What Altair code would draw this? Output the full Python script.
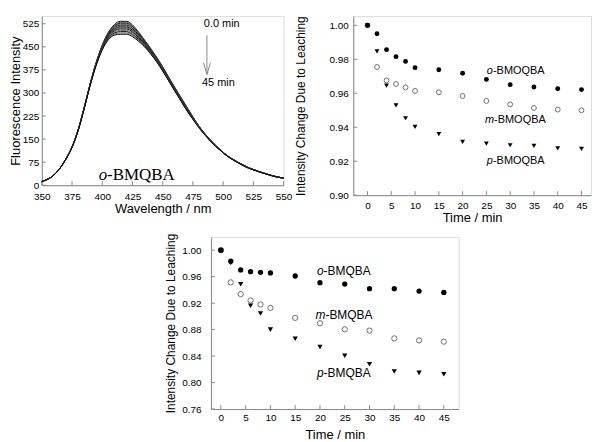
import altair as alt
import pandas as pd

# ---------------- data ----------------
# emission spectra of o-BMQBA (top curve + spread between first and last scan)
wavelengths = list(range(350, 551, 5))
spec_top = [12, 20, 33, 55, 86, 125, 180, 252, 330, 400, 456, 497, 522, 533, 533,
            521, 498, 472, 445, 416, 385, 351, 318, 286, 254, 222, 192, 167, 145, 125,
            107, 92, 80, 69, 59, 51, 44, 38, 32, 27, 23]
spec_spread = [0, 0, 0, 0, 1, 2, 3, 4, 5, 10, 16, 24, 34, 42, 42,
               38, 30, 22, 18, 15, 14, 12, 12, 12, 12, 8, 5, 4, 4, 3,
               2, 2, 2, 2, 2, 1, 1, 1, 1, 1, 0]
scan_times = [0, 2, 4, 6, 8, 10, 15, 20, 25, 30, 35, 40, 45]
scan_drop = [0, 0.08, 0.15, 0.22, 0.30, 0.38, 0.45, 0.52, 0.60, 0.70, 0.80, 0.90, 1.0]

# leaching (top-right panel)
times = [0, 2, 4, 6, 8, 10, 15, 20, 25, 30, 35, 40, 45]
tr_o = [1.000, 0.9951, 0.9857, 0.9816, 0.9788, 0.9751, 0.9739, 0.9718, 0.9682, 0.9651, 0.9637, 0.9627, 0.9622]
tr_m = [1.000, 0.9755, 0.9676, 0.9655, 0.9635, 0.9614, 0.9606, 0.9584, 0.9555, 0.9535, 0.9514, 0.9504, 0.9500]
tr_p = [1.000, 0.9847, 0.9645, 0.9529, 0.9453, 0.9402, 0.9359, 0.9314, 0.9304, 0.9294, 0.9290, 0.9276, 0.9273]

# leaching (bottom panel)
bt_o = [1.000, 0.9833, 0.9701, 0.9676, 0.9666, 0.9656, 0.9610, 0.9509, 0.9489, 0.9418, 0.9418, 0.9382, 0.9362]
bt_m = [1.000, 0.9514, 0.9337, 0.9241, 0.9180, 0.9129, 0.8977, 0.8896, 0.8805, 0.8785, 0.8668, 0.8638, 0.8618]
bt_p = [1.000, 0.9808, 0.9484, 0.9160, 0.9043, 0.8800, 0.8663, 0.8537, 0.8405, 0.8278, 0.8167, 0.8147, 0.8127]

# tick labels
spec_xticks = [350, 375, 400, 425, 450, 475, 500, 525, 550]
spec_yticks = [0, 75, 150, 225, 300, 375, 450, 525]
time_ticks = [0, 5, 10, 15, 20, 25, 30, 35, 40, 45]
tr_yticks = [0.90, 0.92, 0.94, 0.96, 0.98, 1.00]
bt_yticks = [0.76, 0.80, 0.84, 0.88, 0.92, 0.96, 1.00]

# annotation texts
tr_prefix = ["o", "m", "p"]
tr_names = ["-BMOQBA", "-BMOQBA", "-BMOQBA"]
tr_lab_x = [25.1, 24.7, 25.1]
tr_lab_y = [0.9734, 0.9443, 0.9204]
bt_names = ["-BMQBA", "-BMQBA", "-BMQBA"]
bt_lab_x = [19.4, 19.1, 19.4]
bt_lab_y = [0.969, 0.902, 0.8138]

AX = "#8a8a8a"
SANS = "Liberation Sans"
SERIF = "Liberation Serif"
TICK = 4


def axis(title, values, fmt, lp, tp, tsize):
    return alt.Axis(title=title, values=values, format=fmt, labelPadding=lp, titlePadding=tp,
                    titleFontWeight="normal", titleFontSize=tsize, labelFlush=False,
                    labelOverlap=False, ticks=False, grid=False)


def in_ticks(xvals, yvals, xf, yf, xs, ys, xa, ya, h):
    xt = alt.Chart(pd.DataFrame({xf: xvals})).mark_rule(color=AX, strokeWidth=1).encode(
        x=alt.X(f"{xf}:Q", scale=xs, axis=xa), y=alt.value(h), y2=alt.value(h - TICK))
    yt = alt.Chart(pd.DataFrame({yf: yvals})).mark_rule(color=AX, strokeWidth=1).encode(
        y=alt.Y(f"{yf}:Q", scale=ys, axis=ya), x=alt.value(0), x2=alt.value(TICK))
    return [xt, yt]


# ---------------- spectrum panel ----------------
SW, SH = 243, 170
rows = []
for t, d in zip(scan_times, scan_drop):
    for w, top, sp in zip(wavelengths, spec_top, spec_spread):
        rows.append({"wl": w, "I": top - d * sp, "scan": t})
spec_df = pd.DataFrame(rows)

sx = alt.Scale(domain=[350, 550], nice=False, zero=False)
sy = alt.Scale(domain=[0, 550], nice=False)
sxa = axis("Wavelength / nm", spec_xticks, "d", 6, 1, 13)
sya = axis("Fluorescence Intensity", spec_yticks, "d", 3, 0, 13)

line_colors = ["#000000" if i % 2 == 0 else "#6a6a6a" for i in range(len(scan_times))]
spec_lines = alt.Chart(spec_df).mark_line(strokeWidth=1, interpolate="monotone").encode(
    x=alt.X("wl:Q", scale=sx, axis=sxa),
    y=alt.Y("I:Q", scale=sy, axis=sya),
    detail="scan:N",
    color=alt.Color("scan:N", scale=alt.Scale(domain=scan_times, range=line_colors), legend=None),
)

arrow_df = pd.DataFrame({"wl": [486.6], "I": [488], "I2": [360]})
arrow = alt.Chart(arrow_df).mark_rule(color=AX, strokeWidth=1).encode(
    x=alt.X("wl:Q", scale=sx, axis=sxa), y=alt.Y("I:Q", scale=sy, axis=sya), y2="I2:Q")
head = alt.Chart(arrow_df).mark_point(
    shape="M-1,-3.4L0,0L1,-3.4", filled=False, color=AX, strokeWidth=1, size=49, opacity=1
).encode(x=alt.X("wl:Q", scale=sx, axis=sxa), y=alt.Y("I2:Q", scale=sy, axis=sya))

time_txt = alt.Chart(pd.DataFrame({"wl": [484, 482.5], "I": [524, 333], "t": ["0.0 min", "45 min"]})).mark_text(
    font=SANS, fontSize=11, align="left", baseline="middle", color="black"
).encode(x=alt.X("wl:Q", scale=sx, axis=sxa), y=alt.Y("I:Q", scale=sy, axis=sya), text="t:N")

name_df = pd.DataFrame({"wl": [397], "I": [17], "p": ["o"], "n": ["-BMQBA"]})
name_o = alt.Chart(name_df).mark_text(font=SERIF, fontSize=17, fontStyle="italic", align="left",
                                      baseline="alphabetic", color="black").encode(
    x=alt.X("wl:Q", scale=sx, axis=sxa), y=alt.Y("I:Q", scale=sy, axis=sya), text="p:N")
name_rest = alt.Chart(name_df).mark_text(font=SERIF, fontSize=17, align="left", dx=8.5,
                                         baseline="alphabetic", color="black").encode(
    x=alt.X("wl:Q", scale=sx, axis=sxa), y=alt.Y("I:Q", scale=sy, axis=sya), text="n:N")

spec_chart = alt.layer(
    *in_ticks(spec_xticks, spec_yticks, "wl", "I", sx, sy, sxa, sya, SH),
    spec_lines, arrow, head, time_txt, name_o, name_rest
).properties(width=SW, height=SH)


# ---------------- leaching panels ----------------
def leach_panel(o, m, p, ydom, yticks, xdom, W, H, names, lx, ly, fsize, ms,
                lp_y, tp_y, lp_x, tp_x):
    xs = alt.Scale(domain=xdom, nice=False, zero=False)
    ys = alt.Scale(domain=ydom, nice=False, zero=False)
    xa = axis("Time / min", time_ticks, "d", lp_x, tp_x, 13)
    ya = axis("Intensity Change Due to Leaching", yticks, ".2f", lp_y, tp_y, 12)
    dm = pd.DataFrame({"t": times, "v": m})
    do = pd.DataFrame({"t": times, "v": o})
    dp = pd.DataFrame({"t": times, "v": p})
    enc = dict(x=alt.X("t:Q", scale=xs, axis=xa), y=alt.Y("v:Q", scale=ys, axis=ya))
    lm = alt.Chart(dm).mark_point(shape="circle", filled=False, color="#707070", size=ms,
                                  strokeWidth=1, opacity=1).encode(**enc)
    lo = alt.Chart(do).mark_point(shape="circle", filled=True, color="black", size=ms, opacity=1).encode(**enc)
    lpp = alt.Chart(dp).mark_point(shape="triangle-down", filled=True, color="black", size=ms,
                                   opacity=1).encode(**enc)
    ldf = pd.DataFrame({"t": lx, "v": ly, "p": tr_prefix, "n": names})
    pre_w = {"o": 0.556, "m": 0.833, "p": 0.556}
    texts = []
    for i in range(3):
        sub = ldf.iloc[[i]]
        texts.append(alt.Chart(sub).mark_text(font=SANS, fontSize=fsize, fontStyle="italic", align="left",
                                              baseline="middle", color="black").encode(text="p:N", **enc))
        texts.append(alt.Chart(sub).mark_text(font=SANS, fontSize=fsize, align="left", baseline="middle",
                                              dx=pre_w[tr_prefix[i]] * fsize, color="black").encode(text="n:N", **enc))
    return alt.layer(*in_ticks(time_ticks, yticks, "t", "v", xs, ys, xa, ya, H),
                     lm, lo, lpp, *texts).properties(width=W, height=H)


tr_chart = leach_panel(tr_o, tr_m, tr_p, [0.90, 1.0055], tr_yticks, [-3, 47], 239, 180,
                       tr_names, tr_lab_x, tr_lab_y, 11, 24, 5, 22, 5, 1)
bt_chart = leach_panel(bt_o, bt_m, bt_p, [0.76, 1.02], bt_yticks, [-2, 48], 249, 173,
                       bt_names, bt_lab_x, bt_lab_y, 12, 28, 10, 4, 4, 6)

spacer = alt.Chart(pd.DataFrame({"a": [0]})).mark_point(opacity=0).encode(
    x=alt.X("a:Q", axis=None), y=alt.Y("a:Q", axis=None)
).properties(width=170, height=173, view=alt.ViewBackground(strokeOpacity=0))

top = alt.hconcat(spec_chart, tr_chart, spacing=70, bounds="flush")
bottom = alt.hconcat(spacer, bt_chart, spacing=0, bounds="flush")

chart = alt.vconcat(top, bottom, spacing=7).properties(
    padding={"left": 0, "top": 6, "right": 0, "bottom": 0}
).configure_view(stroke=AX, strokeWidth=1).configure_axis(
    labelFont=SANS, labelFontSize=10, labelColor="black",
    titleFont=SANS, titleFontSize=13, titleFontWeight="normal", titleColor="black",
    domainColor=AX, ticks=False, grid=False
).configure(background="white")

chart.save("out.html", embed_options={"renderer": "svg", "actions": False})
